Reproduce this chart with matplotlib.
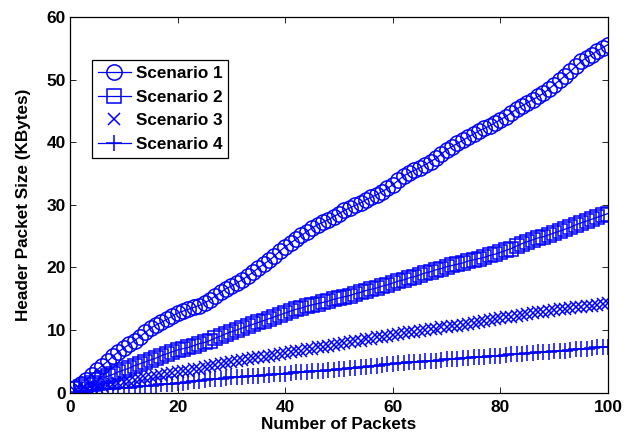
import matplotlib
matplotlib.use("Agg")
import matplotlib.pyplot as plt

packets = list(range(1, 101))

scenario1 = [0.8, 1.3, 2.0, 2.8, 3.6, 4.3, 5.0, 5.8, 6.5, 7.1,
             7.7, 8.3, 8.9, 9.6, 10.3, 10.8, 11.2, 11.7, 12.2, 12.7,
             13.0, 13.3, 13.6, 13.9, 14.3, 14.8, 15.4, 16.0, 16.6, 17.0,
             17.5, 18.0, 18.6, 19.2, 19.9, 20.5, 21.1, 21.8, 22.6, 23.3,
             23.9, 24.5, 25.1, 25.7, 26.3, 26.8, 27.2, 27.6, 28.1, 28.6,
             29.1, 29.5, 29.9, 30.3, 30.8, 31.2, 31.6, 32.1, 32.6, 33.2,
             33.9, 34.6, 35.1, 35.5, 35.9, 36.4, 36.9, 37.4, 38.1, 38.8,
             39.3, 39.8, 40.3, 40.8, 41.3, 41.8, 42.2, 42.6, 43.1, 43.6,
             44.1, 44.7, 45.3, 45.8, 46.3, 46.8, 47.3, 47.8, 48.5, 49.2,
             49.9, 50.6, 51.3, 52.1, 52.9, 53.5, 54.0, 54.6, 55.1, 55.6]

scenario2 = [0.5, 0.9, 1.2, 1.6, 2.0, 2.3, 2.6, 2.9, 3.3, 3.6,
             3.9, 4.3, 4.6, 4.9, 5.2, 5.5, 5.9, 6.2, 6.5, 6.8,
             7.0, 7.2, 7.5, 7.8, 8.0, 8.3, 8.7, 9.0, 9.4, 9.7,
             10.0, 10.3, 10.6, 10.9, 11.2, 11.5, 11.8, 12.1, 12.4, 12.7,
             13.0, 13.3, 13.5, 13.8, 14.0, 14.2, 14.4, 14.6, 14.9, 15.1,
             15.3, 15.5, 15.8, 16.0, 16.3, 16.5, 16.7, 17.0, 17.2, 17.5,
             17.8, 18.0, 18.3, 18.5, 18.8, 19.1, 19.3, 19.6, 19.8, 20.1,
             20.3, 20.5, 20.7, 21.0, 21.2, 21.4, 21.6, 21.9, 22.1, 22.4,
             22.7, 23.0, 23.4, 23.8, 24.1, 24.4, 24.7, 24.9, 25.2, 25.5,
             25.8, 26.1, 26.4, 26.8, 27.1, 27.4, 27.7, 28.0, 28.3, 28.6]

scenario3 = [0.2, 0.4, 0.5, 0.7, 0.9, 1.0, 1.2, 1.4, 1.5, 1.7,
             1.9, 2.0, 2.2, 2.3, 2.5, 2.6, 2.8, 2.9, 3.1, 3.2,
             3.4, 3.5, 3.7, 3.8, 4.0, 4.2, 4.4, 4.5, 4.7, 4.9,
             5.0, 5.2, 5.3, 5.5, 5.6, 5.7, 5.9, 6.0, 6.2, 6.3,
             6.4, 6.6, 6.7, 6.9, 7.0, 7.2, 7.3, 7.4, 7.6, 7.7,
             7.9, 8.0, 8.2, 8.3, 8.5, 8.6, 8.8, 8.9, 9.1, 9.2,
             9.3, 9.5, 9.6, 9.7, 9.9, 10.0, 10.1, 10.2, 10.4, 10.5,
             10.6, 10.7, 10.8, 11.0, 11.1, 11.3, 11.4, 11.6, 11.7, 11.9,
             12.0, 12.1, 12.3, 12.4, 12.5, 12.7, 12.8, 12.9, 13.1, 13.2,
             13.3, 13.4, 13.5, 13.6, 13.7, 13.8, 13.9, 14.0, 14.2, 14.3]

scenario4 = [0.1, 0.2, 0.2, 0.3, 0.4, 0.5, 0.5, 0.6, 0.7, 0.8,
             0.8, 0.9, 1.0, 1.0, 1.1, 1.2, 1.3, 1.3, 1.4, 1.5,
             1.6, 1.7, 1.8, 1.9, 2.0, 2.1, 2.1, 2.2, 2.3, 2.4,
             2.4, 2.5, 2.6, 2.6, 2.7, 2.8, 2.8, 2.9, 3.0, 3.0,
             3.1, 3.2, 3.2, 3.3, 3.4, 3.4, 3.5, 3.6, 3.6, 3.7,
             3.8, 3.9, 3.9, 4.0, 4.1, 4.2, 4.3, 4.4, 4.5, 4.6,
             4.7, 4.7, 4.8, 4.9, 4.9, 5.0, 5.1, 5.1, 5.2, 5.3,
             5.3, 5.4, 5.5, 5.5, 5.6, 5.7, 5.7, 5.8, 5.9, 5.9,
             6.0, 6.1, 6.1, 6.2, 6.3, 6.3, 6.4, 6.5, 6.5, 6.6,
             6.7, 6.7, 6.8, 6.9, 7.0, 7.0, 7.1, 7.2, 7.2, 7.3]

labels = ["Scenario 1", "Scenario 2", "Scenario 3", "Scenario 4"]
xticks = [0, 20, 40, 60, 80, 100]
yticks = [0, 10, 20, 30, 40, 50, 60]

plt.rcParams['font.family'] = ['Liberation Sans', 'DejaVu Sans']
plt.rcParams['font.weight'] = 'bold'

fig = plt.figure(figsize=(6.33, 4.33), dpi=100)
ax = fig.add_axes([0.1106, 0.0935, 0.85, 0.8672])

blue = (0, 0, 1)
ax.plot(packets, scenario1, color=blue, marker='o', markersize=11,
        markerfacecolor='none', markeredgewidth=1.1, linewidth=0.9, label=labels[0])
ax.plot(packets, scenario2, color=blue, marker='s', markersize=9.5,
        markerfacecolor='none', markeredgewidth=1.1, linewidth=0.9, label=labels[1])
ax.plot(packets, scenario3, color=blue, marker='x', markersize=8,
        markeredgewidth=1.1, linestyle='none', label=labels[2])
ax.plot(packets, scenario4, color=blue, marker='+', markersize=12,
        markeredgewidth=1.1, linewidth=0.9, label=labels[3])

ax.set_xlim(0, 100)
ax.set_ylim(0, 60)
ax.set_xticks(xticks)
ax.set_yticks(yticks)
ax.tick_params(direction='in', top=True, right=True, length=4, width=0.6,
               labelsize=12.5)
ax.tick_params(axis='x', pad=5.5)
ax.tick_params(axis='y', pad=3)
for lab in ax.get_xticklabels() + ax.get_yticklabels():
    lab.set_fontweight('bold')
for s in ax.spines.values():
    s.set_linewidth(0.9)

ax.set_xlabel("Number of Packets", fontsize=12.3, fontweight='bold', labelpad=1.5)
ax.set_ylabel("Header Packet Size (KBytes)", fontsize=12.3, fontweight='bold', labelpad=11)

leg = ax.legend(loc='upper left', bbox_to_anchor=(0.041, 0.885), borderaxespad=0,
                fancybox=False, edgecolor='black', framealpha=1,
                prop={'weight': 'bold', 'size': 12.3}, handlelength=1.9,
                handletextpad=0.3, labelspacing=0.5, borderpad=0.35)
leg.get_frame().set_linewidth(0.9)

fig.savefig("out.png", dpi=100)
